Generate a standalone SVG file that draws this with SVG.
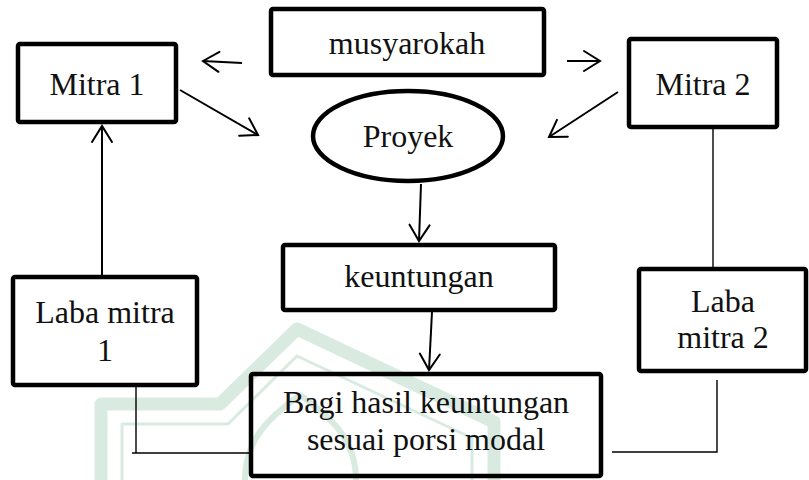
<svg xmlns="http://www.w3.org/2000/svg" width="809" height="480" viewBox="0 0 809 480">
  <defs>
    <style>
      .box { fill: none; stroke: #000000; stroke-width: 4.5; stroke-linejoin: round; }
      .lbl { font-family: "Liberation Serif", "Times New Roman", serif; font-size: 32px; fill: #111111; text-anchor: middle; }
      .arr { fill: none; stroke: #000000; stroke-width: 2; marker-end: url(#open); }
      .thin { fill: none; stroke: #000000; stroke-width: 1.4; }
      .wm { fill: none; stroke: #d9ebe0; stroke-linejoin: round; }
    </style>
    <marker id="open" markerUnits="userSpaceOnUse" markerWidth="24" markerHeight="24" viewBox="-20 -12 24 24" refX="0" refY="0" orient="auto">
      <path d="M -16 -10 L 0 0 L -16 10" fill="none" stroke="#000000" stroke-width="2" stroke-linecap="round" stroke-linejoin="miter"/>
    </marker>
  </defs>

  <g id="watermark">
    <path class="wm" stroke-width="13" d="M 101 480 L 101 404 L 220 404 L 297 329 L 494 422 L 494 480"/>
    <path class="wm" stroke-width="3" stroke="#e6f1ea" d="M 122 480 L 122 424 L 228 424 L 297 356 L 472 438 L 472 480"/>
    <path class="wm" stroke-width="6" stroke="#e0eee5" d="M 245 480 C 245 440 268 418 300 395 C 332 418 356 440 356 480"/>
  </g>

  <g id="connectors">
    <line class="arr" x1="242" y1="63" x2="203" y2="61"/>
    <line class="arr" x1="567" y1="61" x2="600" y2="61"/>
    <line class="arr" x1="180" y1="90" x2="258" y2="135"/>
    <line class="arr" x1="618" y1="92" x2="549" y2="137"/>
    <line class="arr" x1="102" y1="275" x2="102" y2="126"/>
    <line class="arr" x1="421" y1="184" x2="419" y2="241"/>
    <line class="arr" x1="432" y1="312" x2="429" y2="370"/>
    <line class="thin" x1="713" y1="129" x2="713" y2="269"/>
    <polyline class="thin" points="136,387 136,453 132,453 249,453"/>
    <polyline class="thin" points="717,380 717,452 612,452"/>
  </g>

  <g id="musyarokah">
    <rect class="box" x="271" y="9" width="273" height="66" rx="2"/>
    <text class="lbl" x="407" y="54">musyarokah</text>
  </g>
  <g id="mitra1">
    <rect class="box" x="18" y="44" width="158" height="78" rx="2"/>
    <text class="lbl" x="97" y="95">Mitra 1</text>
  </g>
  <g id="mitra2">
    <rect class="box" x="629" y="39" width="148" height="88" rx="2"/>
    <text class="lbl" x="703" y="95">Mitra 2</text>
  </g>
  <g id="proyek">
    <ellipse class="box" cx="408" cy="136" rx="95" ry="45"/>
    <text class="lbl" x="408" y="147">Proyek</text>
  </g>
  <g id="keuntungan">
    <rect class="box" x="283" y="245" width="272" height="65" rx="2"/>
    <text class="lbl" x="419" y="287">keuntungan</text>
  </g>
  <g id="laba1">
    <rect class="box" x="13" y="277" width="184" height="108" rx="2"/>
    <text class="lbl" x="105" y="323">Laba mitra</text>
    <text class="lbl" x="105" y="361">1</text>
  </g>
  <g id="laba2">
    <rect class="box" x="639" y="269" width="167" height="102" rx="2"/>
    <text class="lbl" x="723" y="312">Laba</text>
    <text class="lbl" x="723" y="348">mitra 2</text>
  </g>
  <g id="bagihasil">
    <rect class="box" x="251" y="374" width="350" height="102" rx="2"/>
    <text class="lbl" x="426" y="413">Bagi hasil keuntungan</text>
    <text class="lbl" x="426" y="450">sesuai porsi modal</text>
  </g>
</svg>
